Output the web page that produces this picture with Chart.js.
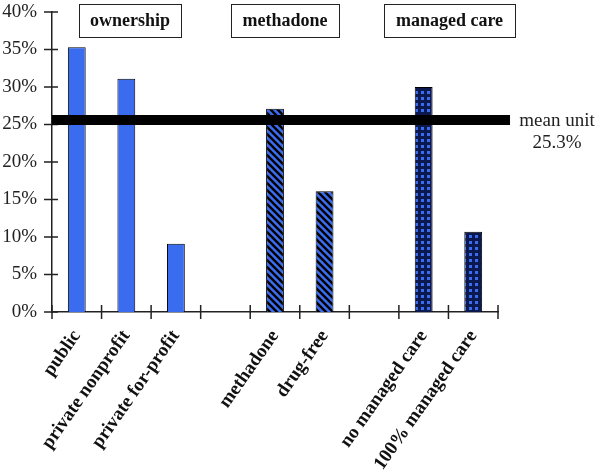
<!DOCTYPE html>
<html>
<head>
<meta charset="utf-8">
<script src="https://cdn.jsdelivr.net/npm/chart.js@4.4.0/dist/chart.umd.min.js"></script>
<style>
  html, body { margin: 0; padding: 0; background: #fff; }
</style>
</head>
<body>
<canvas id="chart" width="600" height="474"></canvas>
<script>
  // data
  const categories = ['public', 'private nonprofit', 'private for-profit', '',
    'methadone', 'drug-free', '', 'no managed care', '100% managed care'];
  const shares = [35.3, 31.1, 9.1, null, 27.1, 16.1, null, 30.0, 10.7];
  const groupLabels = ['ownership', 'methadone', 'managed care'];
  const yTicks = [0, 5, 10, 15, 20, 25, 30, 35, 40];
  const meanLine = 25.6;
  const meanLabel = ['mean unit', '25.3%'];

  const BLUE = '#3a6cf0';
  const SERIF = '"Liberation Serif", "Times New Roman", serif';

  // fill patterns
  function stripes() {
    const c = document.createElement('canvas');
    c.width = 7; c.height = 7;
    const g = c.getContext('2d');
    g.fillStyle = BLUE; g.fillRect(0, 0, 7, 7);
    g.strokeStyle = '#000'; g.lineWidth = 2.4;
    g.beginPath();
    g.moveTo(-1, -1); g.lineTo(8, 8);
    g.moveTo(-8, -1); g.lineTo(1, 8);
    g.moveTo(6, -1); g.lineTo(15, 8);
    g.stroke();
    return g.createPattern(c, 'repeat');
  }
  function checks() {
    const c = document.createElement('canvas');
    c.width = 6; c.height = 6;
    const g = c.getContext('2d');
    g.fillStyle = '#0c1850'; g.fillRect(0, 0, 6, 6);
    g.fillStyle = BLUE; g.fillRect(1, 1, 3, 3);
    return g.createPattern(c, 'repeat');
  }
  const ctx = document.getElementById('chart').getContext('2d');
  const stripeFill = stripes();
  const checkFill = checks();
  const fills = categories.map((c, i) => i < 3 ? BLUE : (i < 6 ? stripeFill : checkFill));

  const decor = {
    id: 'decor',
    afterDraw(chart) {
      const { ctx, chartArea: a, scales: { x, y } } = chart;
      ctx.save();
      ctx.strokeStyle = '#222';
      ctx.lineWidth = 1.5;
      // crossing tick marks
      ctx.beginPath();
      yTicks.forEach(v => {
        const py = y.getPixelForValue(v);
        ctx.moveTo(a.left - 8, py); ctx.lineTo(a.left + 6, py);
      });
      for (let i = 0; i <= categories.length; i++) {
        const px = x.getPixelForValue(i - 0.5);
        ctx.moveTo(px, a.bottom - 7); ctx.lineTo(px, a.bottom + 7);
      }
      ctx.stroke();

      // mean line
      const my = y.getPixelForValue(meanLine);
      ctx.fillStyle = '#000';
      ctx.fillRect(a.left, my - 5, a.right + 12 - a.left, 10);
      ctx.font = '19px ' + SERIF;
      ctx.fillStyle = '#222';
      ctx.textBaseline = 'middle';
      ctx.textAlign = 'center';
      ctx.fillText(meanLabel[0], 557, my + 1);
      ctx.fillText(meanLabel[1], 557, my + 23);

      // group boxes
      const boxes = [[79, 102], [231, 108], [384, 131]];
      ctx.font = 'bold 18px ' + SERIF;
      ctx.lineWidth = 1;
      groupLabels.forEach((t, i) => {
        const [bx, bw] = boxes[i];
        ctx.fillStyle = '#fff';
        ctx.fillRect(bx, 4, bw, 33);
        ctx.strokeRect(bx + 0.5, 4.5, bw, 33);
        ctx.fillStyle = '#111';
        ctx.fillText(t, bx + bw / 2, 21);
      });
      ctx.restore();
    }
  };

  new Chart(ctx, {
    type: 'bar',
    data: {
      labels: categories,
      datasets: [{
        data: shares,
        backgroundColor: fills,
        borderColor: '#000',
        borderWidth: 1,
        barPercentage: 0.36,
        categoryPercentage: 1
      }]
    },
    options: {
      responsive: false,
      animation: false,
      devicePixelRatio: 1,
      layout: { padding: { top: 12, right: 102, left: 0, bottom: 0 } },
      plugins: { legend: { display: false }, tooltip: { enabled: false } },
      scales: {
        x: {
          grid: { display: false, drawTicks: false },
          border: { color: '#222', width: 1.5 },
          afterFit(s) { s.height = 162; s.paddingTop = 0; },
          ticks: {
            autoSkip: false,
            minRotation: 55,
            maxRotation: 55,
            padding: 14,
            color: '#111',
            font: { family: SERIF, size: 19, weight: 'bold' }
          }
        },
        y: {
          min: 0,
          max: 40,
          grid: { display: false, drawTicks: false },
          border: { color: '#222', width: 1.5 },
          afterFit(s) { s.width = 52; s.paddingTop = 0; s.paddingBottom = 0; },
          ticks: {
            stepSize: 5,
            padding: 15,
            color: '#222',
            font: { family: SERIF, size: 19 },
            callback: v => v + '%'
          }
        }
      }
    },
    plugins: [decor]
  });
</script>
</body>
</html>
